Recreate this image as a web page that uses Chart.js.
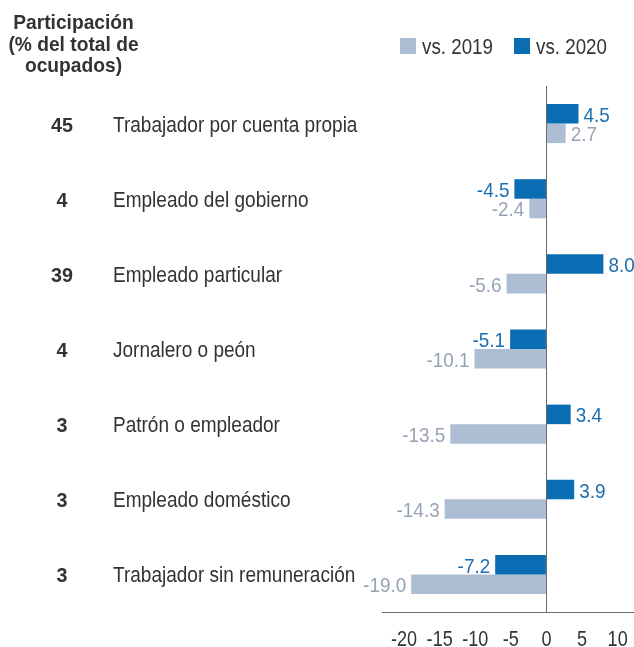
<!DOCTYPE html>
<html>
<head>
<meta charset="utf-8">
<script src="https://cdn.jsdelivr.net/npm/chart.js@4"></script>
<style>
  html, body { margin: 0; padding: 0; background: #fff; }
  #wrap { width: 634px; height: 647px; position: relative; }
</style>
</head>
<body>
<div id="wrap"><canvas id="myChart"></canvas></div>
<script>
var categories = ['Trabajador por cuenta propia', 'Empleado del gobierno', 'Empleado particular',
  'Jornalero o peón', 'Patrón o empleador', 'Empleado doméstico', 'Trabajador sin remuneración'];
var shares = ['45', '4', '39', '4', '3', '3', '3'];
var vs2020 = [4.5, -4.5, 8.0, -5.1, 3.4, 3.9, -7.2];
var vs2019 = [2.7, -2.4, -5.6, -10.1, -13.5, -14.3, -19.0];
var xTicks = [-20, -15, -10, -5, 0, 5, 10];
var titleLines = ['Participación', '(% del total de', 'ocupados)'];

// no narrow font installed, so text gets squeezed horizontally
var FONT = "'Liberation Sans', Arial, sans-serif";
var DARK = '#333333';
var BLUE = '#0a6db4';
var LIGHT = '#adbdd3';
var BLUE_TXT = '#1a6fb3';
var LIGHT_TXT = '#97a3b4';

function narrowText(ctx, txt, x, y, align, sx) {
  ctx.save();
  ctx.translate(x, y);
  ctx.scale(sx, 1);
  ctx.textAlign = align;
  ctx.fillText(txt, 0, 0);
  ctx.restore();
}

var sidePlugin = {
  id: 'side',
  afterDraw: function(chart) {
    var ctx = chart.ctx;
    var y = chart.scales.y;
    var x = chart.scales.x;
    ctx.save();
    ctx.fillStyle = DARK;
    ctx.textBaseline = 'alphabetic';

    // title
    ctx.font = 'bold 21px ' + FONT;
    titleLines.forEach(function(t, i) {
      narrowText(ctx, t, 73.5, 29 + i * 21.5, 'center', 0.915);
    });

    // shares and category names
    categories.forEach(function(c, i) {
      var py = y.getPixelForValue(i) + 8;
      ctx.font = 'bold 21px ' + FONT;
      narrowText(ctx, shares[i], 62, py, 'center', 0.94);
      ctx.font = '22px ' + FONT;
      narrowText(ctx, c, 113, py, 'left', 0.864);
    });

    // x tick labels
    ctx.font = '22px ' + FONT;
    xTicks.forEach(function(v) {
      narrowText(ctx, String(v), x.getPixelForValue(v), 646, 'center', 0.82);
    });

    // value labels
    ctx.font = '21px ' + FONT;
    chart.data.datasets.forEach(function(ds, di) {
      var meta = chart.getDatasetMeta(di);
      ctx.fillStyle = di === 0 ? BLUE_TXT : LIGHT_TXT;
      meta.data.forEach(function(bar, i) {
        var v = ds.data[i];
        var txt = v.toFixed(1);
        if (v >= 0) {
          narrowText(ctx, txt, bar.x + 5, bar.y + 8, 'left', 0.9);
        } else {
          narrowText(ctx, txt, bar.x - 5, bar.y + 8, 'right', 0.9);
        }
      });
    });

    // legend (2019 first)
    var items = [
      { ds: chart.data.datasets[1], x: 400 },
      { ds: chart.data.datasets[0], x: 514 }
    ];
    ctx.font = '22px ' + FONT;
    items.forEach(function(it) {
      ctx.fillStyle = it.ds.backgroundColor;
      ctx.fillRect(it.x, 38, 16, 16);
      ctx.fillStyle = DARK;
      narrowText(ctx, it.ds.label, it.x + 22, 54, 'left', 0.853);
    });
    ctx.restore();
  }
};

new Chart(document.getElementById('myChart'), {
  type: 'bar',
  data: {
    labels: categories,
    datasets: [
      { label: 'vs. 2020', data: vs2020, backgroundColor: BLUE },
      { label: 'vs. 2019', data: vs2019, backgroundColor: LIGHT }
    ]
  },
  options: {
    indexAxis: 'y',
    responsive: true,
    maintainAspectRatio: false,
    animation: false,
    categoryPercentage: 0.52,
    barPercentage: 1,
    layout: { padding: { top: 86, left: 382, right: 0, bottom: 35 } },
    plugins: { legend: { display: false }, tooltip: { enabled: false } },
    scales: {
      y: { display: false, offset: true },
      x: {
        min: -23.1,
        max: 12.3,
        z: 1,
        afterBuildTicks: function(scale) {
          scale.ticks = xTicks.map(function(v) { return { value: v }; });
        },
        border: { display: true, color: '#6b6b6b', width: 1 },
        grid: {
          drawTicks: false,
          color: function(c) { return c.tick && c.tick.value === 0 ? '#6b6b6b' : 'rgba(0,0,0,0)'; }
        },
        ticks: { display: false }
      }
    }
  },
  plugins: [sidePlugin]
});
</script>
</body>
</html>
